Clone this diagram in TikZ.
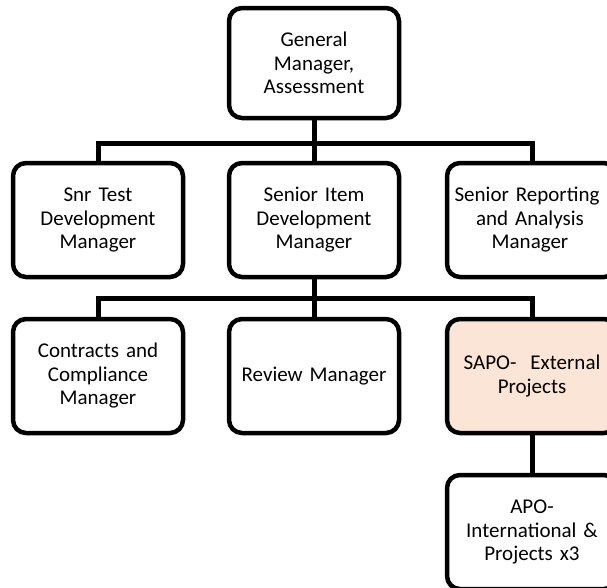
\documentclass[tikz,border=0pt]{standalone}
\usepackage{fontspec}
\setmainfont{Carlito}
\definecolor{peach}{HTML}{FBE5D6}
\begin{document}
\begin{tikzpicture}[x=1pt,y=-1pt,
  box/.style={draw=black, fill=white, line width=4.5pt, rounded corners=13pt,
    minimum width=170pt, minimum height=114pt, align=center, text width=165pt,
    font=\fontsize{21}{23.5}\selectfont, inner sep=0pt},
  conn/.style={draw=black, line width=5pt}]
\useasboundingbox (0,0) rectangle (607,587);
\clip (0,0) rectangle (607,587);
\coordinate (j1) at (314,143);
\coordinate (j2) at (314,298);
% boxes
\node[box, minimum height=110pt] (gm) at (314,63) {General\\Manager,\\Assessment};
\node[box] (st) at (98,220) {Snr Test\\Development\\Manager};
\node[box] (si) at (314,220) {Senior Item\\Development\\Manager};
\node[box] (sr) at (532,220) {Senior Reporting\rule{10pt}{0pt}\\and Analysis\rule{4pt}{0pt}\\Manager\rule{4pt}{0pt}};
\node[box] (cc) at (98,376) {Contracts and\\Compliance\\Manager};
\node[box] (rm) at (314,376) {Review Manager};
\node[box, fill=peach] (sp) at (532,376) {SAPO-\ \ External\\Projects};
\node[box] (apo) at (532,532) {APO-\\International \&\\Projects x3};
% connectors
\draw[conn] (gm.south) -- (si.north);
\draw[conn] (st.north) |- (j1);
\draw[conn] (sr.north) |- (j1);
\draw[conn] (si.south) -- (rm.north);
\draw[conn] (cc.north) |- (j2);
\draw[conn] (sp.north) |- (j2);
\draw[conn] (sp.south) -- (apo.north);
\end{tikzpicture}
\end{document}
